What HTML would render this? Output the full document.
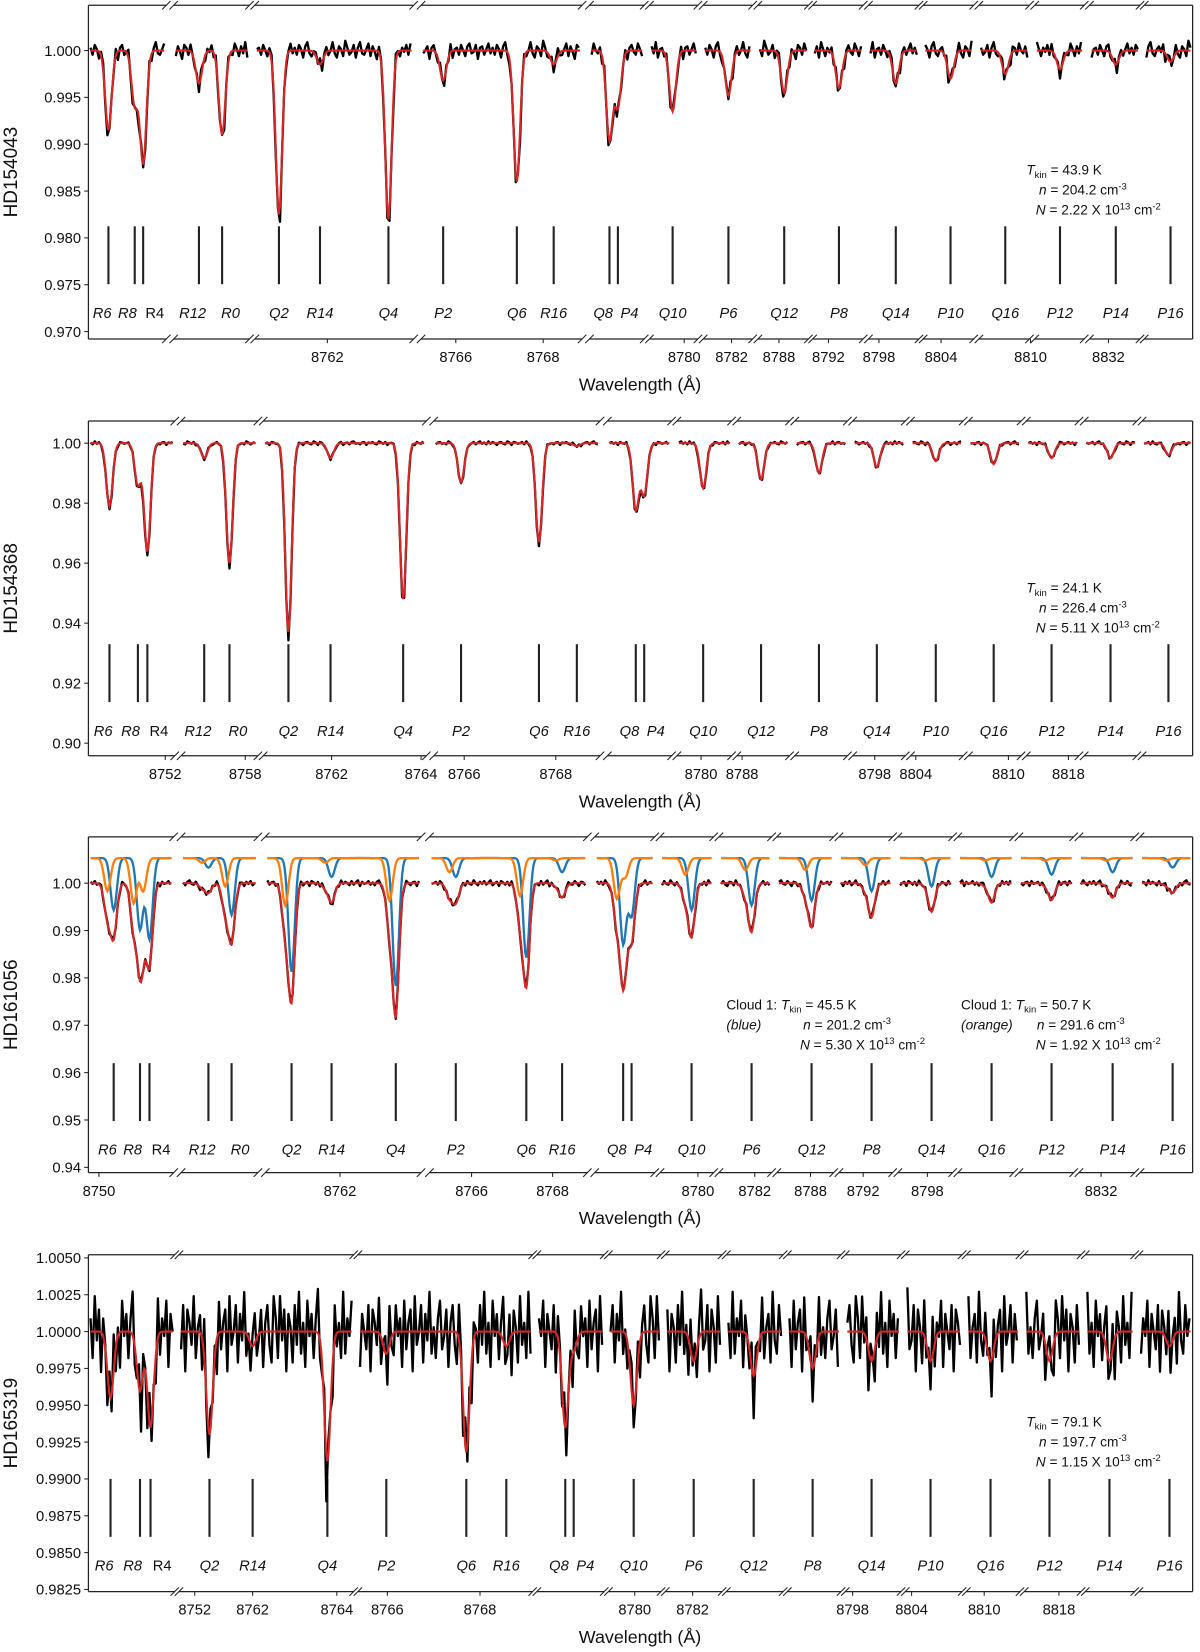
<!DOCTYPE html>
<html><head><meta charset="utf-8"><style>
html,body{margin:0;padding:0;background:#fff;}
svg{display:block;font-family:"Liberation Sans","DejaVu Sans",sans-serif;}
</style></head><body>
<svg id="fig" width="1200" height="1652" viewBox="0 0 1140 1569.4" preserveAspectRatio="none" xmlns="http://www.w3.org/2000/svg"></svg>
<script>
// ---------- data ----------
const names1 = ['R6','R8','R4','R12','R0','Q2','R14','Q4','P2','Q6','R16','Q8','P4','Q10','P6','Q12','P8','Q14','P10','Q16','P12','P14','P16'];
const pos1 = [103,128,136,189,211,265,304,369,421,491,526,579,587,639,692,745,797,851,903,955,1007,1060,1112];
const depth1 = [0.0085,0.0058,0.012,0.0035,0.009,0.0175,0.0015,0.018,0.0032,0.014,0.0015,0.0095,0.006,0.0065,0.0048,0.0045,0.004,0.0035,0.003,0.0025,0.002,0.0015,0.0012];
const segs1 = [[84,158],[165,237],[242,393],[400,553],[560,612],[617,663],[668,715],[720,768],[772,820],[825,873],[877,925],[930,978],[983,1030],[1035,1083],[1087,1133]];
const ticks1 = [1.000,0.995,0.990,0.985,0.980,0.975,0.970];
const tickLab1 = ['1.000','0.995','0.990','0.985','0.980','0.975','0.970'];
const xLab1 = ['8762','8766','8768','8780','8782','8788','8792','8798','8804','8810','8832'];
const xLabPos1 = [311,433,516,650,695,740,787,835,894,979,1053];
const noise1 = [2,-3,4,1,-5,3,6,-2,-4,1,3,-1,5,-6,2,4,-3,0,6,-2,-5,3,1,-4,7,2,-3,-1,4,-5,2,6,-2,-3,1,5,-4,3,-1,-6,4,2,-3,5,0,-2,3,-5,6,1,-4,2,-1,4,-3,5,-2,0,3,-6,2,4,-1,-3,5,1,-4,3,-2,6,-5,1,2,-3,4,0,-4,3,5,-2,-1,4,-6,2,3,-3,1,5,-2];

const names2 = ['R6','R8','R4','R12','R0','Q2','R14','Q4','P2','Q6','R16','Q8','P4','Q10','Q12','P8','Q14','P10','Q16','P12','P14','P16'];
const pos2 = [104,131,140,194,218,274,314,383,438,512,548,604,612,668,723,778,833,889,944,999,1055,1110];
const depth2 = [0.021,0.014,0.036,0.005,0.040,0.063,0.005,0.052,0.013,0.033,0.001,0.022,0.017,0.015,0.012,0.010,0.008,0.006,0.007,0.005,0.005,0.004];
const segs2 = [[84,166],[172,245],[250,405],[412,570],[577,638],[643,695],[700,750],[755,805],[810,860],[865,915],[920,970],[975,1025],[1030,1080],[1085,1133]];
const ticks2 = [1.00,0.98,0.96,0.94,0.92,0.90];
const tickLab2 = ['1.00','0.98','0.96','0.94','0.92','0.90'];
const xLab2 = ['8752','8758','8762','8764','8766','8768','8780','8788','8798','8804','8810','8818'];
const xLabPos2 = [157,233,315,400,441,528,666,705,831,870,958,1015];
const noise2 = [1,-2,3,-1,2,0,-3,1,2,-1,-2,3,1,-3,2,1,-1,0,2,-2,3,-1,-2,1,2,-3,0,1,-2,2,3,-1,0,-2,1,2,-3,1,0,2,-1,-2,3,1,-1,2,-3,0,1,2,-2,1,3,-1,-2,0,2,-1,1,-3,2,0,-1,3,-2,1,2,-1,0,-2,3,1,-2,0,2,-1,1,-3,2,1,-1,0,2,-2,1,3,-1];

const names3 = ['R6','R8','R4','R12','R0','Q2','R14','Q4','P2','Q6','R16','Q8','P4','Q10','P6','Q12','P8','Q14','Q16','P12','P14','P16'];
const pos3 = [108,133,142,198,220,277,315,376,433,500,534,592,600,657,714,771,828,885,942,999,1057,1114];
const blue3 = [0.011,0.015,0.017,0.002,0.012,0.024,0.004,0.027,0.004,0.021,0.003,0.018,0.012,0.011,0.010,0.009,0.007,0.006,0.004,0.0035,0.003,0.002];
const orange3 = [0.007,0.0095,0.007,0.001,0.006,0.010,0.001,0.009,0.003,0.008,0.0005,0.0085,0.004,0.0035,0.0025,0.0025,0.0015,0.0005,0.0005,0.0005,0.0005,0.0005];
const segs3 = [[84,165],[172,245],[252,400],[408,558],[565,622],[627,678],[683,733],[738,792],[797,848],[853,905],[910,963],[968,1020],[1025,1078],[1083,1133]];
const ticks3 = [1.00,0.99,0.98,0.97,0.96,0.95,0.94];
const tickLab3 = ['1.00','0.99','0.98','0.97','0.96','0.95','0.94'];
const xLab3 = ['8750','8762','8766','8768','8780','8782','8788','8792','8798','8832'];
const xLabPos3 = [94,323,448,525,663,717,770,820,881,1046];
const noise3 = [2,-1,3,-2,1,4,-3,0,2,-4,3,1,-2,2,-3,4,0,-1,3,-2,-4,2,1,-3,4,-1,2,0,-3,3,-2,1,4,-4,2,-1,0,3,-2,1,-3,2,4,-1,-2,3,0,-4,2,1,-3,3,-1,2,-2,4,0,-3,1,2,-4,3,-1,0,2,-2,3,1,-4,2,-1,3,-3,0,4,-2,1,2,-3,3,-1,-2,4,0,-3];

const names4 = ['R6','R8','R4','Q2','R14','Q4','P2','Q6','R16','Q8','P4','Q10','P6','Q12','P8','Q14','P10','Q16','P12','P14','P16'];
const pos4 = [105,133,143,199,240,311,367,443,481,537,545,602,659,716,772,828,884,941,997,1054,1111];
const depth4 = [0.0045,0.004,0.0065,0.007,0.001,0.0088,0.0015,0.0082,0.001,0.0065,0.0012,0.005,0.002,0.003,0.0025,0.002,0.002,0.002,0.002,0.002,0.001];
const segs4 = [[84,166],[170,336],[340,506],[510,574],[578,628],[632,686],[690,744],[748,799],[803,856],[860,914],[918,969],[973,1027],[1031,1078],[1082,1133]];
const ticks4 = [1.005,1.0025,1.0,0.9975,0.995,0.9925,0.99,0.9875,0.985,0.9825];
const tickLab4 = ['1.0050','1.0025','1.0000','0.9975','0.9950','0.9925','0.9900','0.9875','0.9850','0.9825'];
const xLab4 = ['8752','8762','8764','8766','8768','8780','8782','8798','8804','8810','8818'];
const xLabPos4 = [185,240,320,368,456,603,658,810,866,935,1006];
const noise4 = [3,-6,8,-2,5,-9,4,1,-7,6,-3,9,-5,2,-8,7,-1,4,-6,3,10,-4,-2,6,-9,5,1,-7,8,-3,2,-6,9,-5,3,-1,7,-8,4,0,-4,6,-9,5,2,-3,8,-6,1,4,-7,9,-2,-5,6,-1,3,-8,7,-4,2,5,-9,8,-3,0,6,-7,4,-2,9,-5,1,-6,3,7,-4,-1,5,-8,2,6,-3,-7,8];

// ---------- rendering ----------
const NS = 'http://www.w3.org/2000/svg';
const svg = document.getElementById('fig');
function mk(tag, attrs, parent){const e=document.createElementNS(NS,tag);for(const k in attrs)e.setAttribute(k,attrs[k]);(parent||svg).appendChild(e);return e;}
const SIG = 3;
function gsum(x, pos, dep, shift){let s=0;for(let i=0;i<pos.length;i++){const d=x-(pos[i]+shift);s+=dep[i]*Math.exp(-d*d/(2*SIG*SIG));}return s;}
const italicLabel = n => n !== 'R4';
const labShift = {R6:-6,R8:-7,R4:11,R12:-6,R0:8,Q8:-6,P4:11};

function panel(cfg){
  const g = mk('g',{});
  
  
  const Y = v => cfg.y0 + (1 - v) / cfg.step * cfg.stepPx;
  const x0 = cfg.segs[0][0], x1 = cfg.segs[cfg.segs.length-1][1];
  let l = mk('line',{x1:x0,y1:cfg.top,x2:x0,y2:cfg.bot,stroke:'#222','stroke-width':1.2},g);
   
  l = mk('line',{x1:x1,y1:cfg.top,x2:x1,y2:cfg.bot,stroke:'#222','stroke-width':1.2},g);
   
  cfg.segs.forEach((s,si)=>{
    [cfg.top,cfg.bot].forEach(yy=>{
      const sp = mk('line',{x1:s[0],y1:yy,x2:s[1],y2:yy,stroke:'#222','stroke-width':1.2},g);
       
      if(si>0) mk('line',{x1:s[0]-4,y1:yy+4,x2:s[0]+4,y2:yy-4,stroke:'#222','stroke-width':1},g);
      if(si<cfg.segs.length-1) mk('line',{x1:s[1]-4,y1:yy+4,x2:s[1]+4,y2:yy-4,stroke:'#222','stroke-width':1},g);
    });
  });
  cfg.ticks.forEach((v,i)=>{
    const y=Y(v);
    mk('line',{x1:x0-4,y1:y,x2:x0,y2:y,stroke:'#222','stroke-width':1},g);
    const t=mk('text',{x:x0-7,y:y+5,'text-anchor':'end','font-size':14,fill:'#111'},g);
    t.textContent=cfg.tickLab[i];
     
  });
  cfg.xLab.forEach((s,i)=>{
    const x=cfg.xLabPos[i];
    mk('line',{x1:x,y1:cfg.bot,x2:x,y2:cfg.bot+4,stroke:'#222','stroke-width':1},g);
    const t=mk('text',{x:x,y:cfg.bot+22,'text-anchor':'middle','font-size':14,fill:'#111'},g);
    t.textContent=s;
     
  });
  let t=mk('text',{x:608,y:cfg.bot+49,'text-anchor':'middle','font-size':17,fill:'#111'},g);
  t.textContent='Wavelength (Å)';
   
  const cy=(cfg.top+cfg.bot)/2;
  t=mk('text',{x:16,y:cy,'text-anchor':'middle','font-size':18,fill:'#111',transform:`rotate(-90 16 ${cy})`},g);
  t.textContent=cfg.star;
   
  cfg.names.forEach((n,i)=>{
    const x=cfg.pos[i];
    const m=mk('line',{x1:x,y1:cfg.markTop,x2:x,y2:cfg.markTop+55,stroke:'#222','stroke-width':2},g);
     
    const lt=mk('text',{x:x+(labShift[n]||0),y:cfg.markTop+87,'text-anchor':'middle','font-size':14,'font-style':italicLabel(n)?'italic':'normal',fill:'#111'},g);
    lt.textContent=n;
     
  });
  const totalDepth = x => cfg.blue ? gsum(x,cfg.pos,cfg.blue,0)+gsum(x,cfg.pos,cfg.orange,-6) : gsum(x,cfg.pos,cfg.depth,0);
  let k=0;
  cfg.segs.forEach(s=>{
    const a=s[0]+2,b=s[1]-2;
    let d='';
    for(let x=a;x<=b;x+=2){
      const v=1-totalDepth(x)*cfg.deep+cfg.amp*cfg.noise[k%cfg.noise.length]/10; k++;
      d+=(d?'L':'M')+x+' '+Y(v).toFixed(1);
    }
    const p=mk('path',{d:d,fill:'none',stroke:'#000','stroke-width':2.2,'stroke-linejoin':'round'},g);
     
    if(cfg.blue){
      let db='',dor='';
      for(let x=a;x<=b;x+=1){
        db+=(db?'L':'M')+x+' '+Y(cfg.off-gsum(x,cfg.pos,cfg.blue,0)).toFixed(1);
        dor+=(dor?'L':'M')+x+' '+Y(cfg.off-gsum(x,cfg.pos,cfg.orange,-6)).toFixed(1);
      }
      const pb=mk('path',{d:db,fill:'none',stroke:'#1f77b4','stroke-width':2.2},g);
       
      const po=mk('path',{d:dor,fill:'none',stroke:'#ff7f0e','stroke-width':2.2},g);
       
    }
    let dm='';
    for(let x=a;x<=b;x+=1){ dm+=(dm?'L':'M')+x+' '+Y(1-totalDepth(x)).toFixed(1); }
    const pm=mk('path',{d:dm,fill:'none',stroke:'#d62728','stroke-width':2},g);
     
  });
  cfg.notes.forEach(nt=>{
    const tx=mk('text',{x:nt[0],y:nt[1],'font-size':13,fill:'#111'},g);
    tx.innerHTML=nt[2];
     
  });
}
const TK = v=>`<tspan font-style="italic">T</tspan><tspan font-size="9" dy="3">kin</tspan><tspan dy="-3"> = ${v} K</tspan>`;
const NN = v=>`<tspan font-style="italic">n</tspan> = ${v} cm<tspan font-size="9" dy="-5">-3</tspan>`;
const NC = (v)=>`<tspan font-style="italic">N</tspan> = ${v} X 10<tspan font-size="9" dy="-5">13</tspan><tspan dy="5"> cm</tspan><tspan font-size="9" dy="-5">-2</tspan>`;

panel({id:'hd154043',star:'HD154043',top:5,bot:322,y0:48,step:0.005,stepPx:44.5,segs:segs1,ticks:ticks1,tickLab:tickLab1,xLab:xLab1,xLabPos:xLabPos1,names:names1,pos:pos1,depth:depth1,noise:noise1,amp:0.0015,deep:1.05,markTop:215,
  notes:[[975,166,TK('43.9')],[987,185,NN('204.2')],[984,204,NC('2.22')]]});
panel({id:'hd154368',star:'HD154368',top:400,bot:718,y0:421,step:0.02,stepPx:57,segs:segs2,ticks:ticks2,tickLab:tickLab2,xLab:xLab2,xLabPos:xLabPos2,names:names2,pos:pos2,depth:depth2,noise:noise2,amp:0.002,deep:1.04,markTop:612,
  notes:[[975,563,TK('24.1')],[987,582,NN('226.4')],[984,601,NC('5.11')]]});
panel({id:'hd161056',star:'HD161056',top:795,bot:1114,y0:839,step:0.01,stepPx:45,segs:segs3,ticks:ticks3,tickLab:tickLab3,xLab:xLab3,xLabPos:xLabPos3,names:names3,pos:pos3,blue:blue3,orange:orange3,off:1.0053,noise:noise3,amp:0.0015,deep:1.0,markTop:1010,
  notes:[[690,959,'Cloud 1:  '+TK('45.5')],[690,978,'<tspan font-style="italic">(blue)</tspan>'],[763,978,NN('201.2')],[760,997,NC('5.30')],
         [913,959,'Cloud 1:  '+TK('50.7')],[913,978,'<tspan font-style="italic">(orange)</tspan>'],[985,978,NN('291.6')],[984,997,NC('1.92')]]});
panel({id:'hd165319',star:'HD165319',top:1192,bot:1512,y0:1265,step:0.0025,stepPx:35,segs:segs4,ticks:ticks4,tickLab:tickLab4,xLab:xLab4,xLabPos:xLabPos4,names:names4,pos:pos4,depth:depth4,noise:noise4,amp:0.003,deep:1.06,markTop:1405,
  notes:[[975,1355,TK('79.1')],[987,1374,NN('197.7')],[984,1393,NC('1.15')]]});
</script>
</body></html>
